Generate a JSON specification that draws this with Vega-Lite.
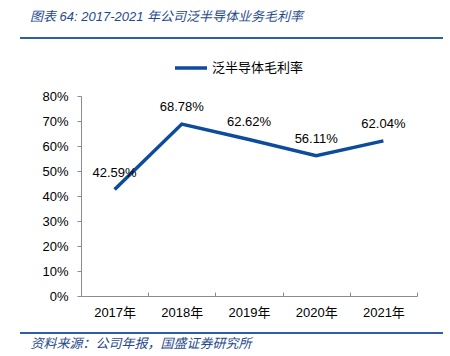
{
  "$schema": "https://vega.github.io/schema/vega-lite/v6.json",
  "width": 423,
  "height": 295,
  "autosize": {"type": "none"},
  "padding": {"left": 20, "top": 38, "right": 7, "bottom": 23},
  "background": "white",
  "config": {
    "view": {"stroke": null},
    "font": "Liberation Sans, Noto Sans CJK SC, sans-serif"
  },
  "title": {
    "text": "图表 64:  2017-2021 年公司泛半导体业务毛利率",
    "anchor": "start",
    "frame": "group",
    "dx": 10,
    "offset": 13,
    "font": "Liberation Sans, Noto Sans CJK SC, sans-serif",
    "fontSize": 13,
    "fontStyle": "italic",
    "fontWeight": "normal",
    "color": "#1F4A8C"
  },
  "data": {
    "values": [
      {"year": "2017年", "rate": 0.4259, "label": "42.59%", "series": "泛半导体毛利率"},
      {"year": "2018年", "rate": 0.6878, "label": "68.78%", "series": "泛半导体毛利率"},
      {"year": "2019年", "rate": 0.6262, "label": "62.62%", "series": "泛半导体毛利率"},
      {"year": "2020年", "rate": 0.5611, "label": "56.11%", "series": "泛半导体毛利率"},
      {"year": "2021年", "rate": 0.6204, "label": "62.04%", "series": "泛半导体毛利率"}
    ]
  },
  "encoding": {
    "x": {
      "field": "year",
      "type": "nominal",
      "sort": null,
      "scale": {"type": "band", "range": [61, 397], "paddingInner": 0, "paddingOuter": 0},
      "axis": {
        "title": "资料来源：公司年报，国盛证券研究所",
        "titleAnchor": "start",
        "titleAlign": "left",
        "titleX": 10,
        "titleY": 47,
        "titleBaseline": "middle",
        "titleFont": "Liberation Sans, Noto Sans CJK SC, sans-serif",
        "titleFontSize": 13,
        "titleFontStyle": "italic",
        "titleFontWeight": "normal",
        "titleColor": "#1F4A8C",
        "offset": -37,
        "labelAngle": 0,
        "labelFontSize": 13,
        "labelColor": "#000000",
        "labelPadding": 14,
        "domainColor": "#8C8C8C",
        "tickColor": "#8C8C8C",
        "tickBand": "extent",
        "tickSize": -4,
        "grid": false
      }
    },
    "y": {
      "field": "rate",
      "type": "quantitative",
      "scale": {"domain": [0, 0.8], "range": [258, 58], "nice": false, "zero": true},
      "axis": {
        "title": null,
        "format": ".0%",
        "values": [0, 0.1, 0.2, 0.3, 0.4, 0.5, 0.6, 0.7, 0.8],
        "offset": -61,
        "labelFontSize": 13,
        "labelColor": "#000000",
        "labelPadding": 9,
        "domainColor": "#8C8C8C",
        "tickColor": "#8C8C8C",
        "tickSize": 4,
        "grid": false
      }
    }
  },
  "layer": [
    {
      "mark": {"type": "rule", "color": "#2F5DA8", "strokeWidth": 2},
      "encoding": {"x": null, "y": {"value": 0}}
    },
    {
      "mark": {"type": "rule", "color": "#2F5DA8", "strokeWidth": 2},
      "encoding": {"x": null, "y": {"value": "height"}}
    },
    {
      "mark": {"type": "line", "strokeWidth": 3.5},
      "encoding": {
        "color": {
          "field": "series",
          "type": "nominal",
          "scale": {"range": ["#0D4B9B"]},
          "legend": {
            "title": null,
            "orient": "none",
            "legendX": 153,
            "legendY": 12,
            "padding": 0,
            "symbolType": "stroke",
            "symbolSize": 1024,
            "symbolStrokeWidth": 3.5,
            "labelFontSize": 13,
            "labelColor": "#000000",
            "labelOffset": 3,
            "labelFont": "Noto Sans CJK SC"
          }
        }
      }
    },
    {
      "mark": {"type": "text", "dy": -17, "fontSize": 13, "color": "#000000"},
      "encoding": {"text": {"field": "label"}}
    }
  ]
}
